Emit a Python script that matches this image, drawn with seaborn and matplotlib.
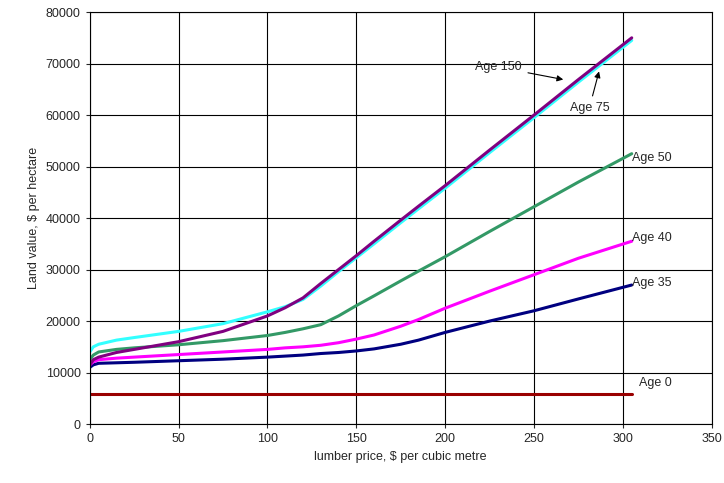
import pandas as pd
import matplotlib.pyplot as plt
import seaborn as sns

price = [0, 2, 5, 15, 25, 50, 75, 100, 110, 120, 130, 140, 150, 160, 175, 185, 200, 225, 250, 275, 305]

age150 = [11500, 12500, 13000, 13900, 14500, 16000, 18000, 21000, 22600, 24500, 27300, 30000, 32700, 35500, 39600, 42300, 46300, 53200, 60000, 66900, 75000]
age75 = [14000, 15000, 15500, 16300, 16800, 18000, 19500, 21800, 22800, 24200, 26800, 29600, 32300, 35000, 39100, 41800, 45800, 52700, 59500, 66400, 74500]
age50 = [12500, 13400, 14000, 14500, 14800, 15400, 16200, 17200, 17800, 18500, 19300, 21000, 23000, 24900, 27800, 29700, 32500, 37400, 42200, 47000, 52500]
age40 = [11500, 12100, 12500, 12800, 13000, 13500, 14000, 14500, 14800, 15000, 15300, 15800, 16500, 17300, 19000, 20300, 22500, 25800, 29000, 32200, 35500]
age35 = [11000, 11500, 11800, 11900, 12000, 12300, 12600, 13000, 13200, 13400, 13700, 13900, 14200, 14600, 15500, 16300, 17800, 20000, 22000, 24300, 27000]
age0 = [5800] * len(price)

series = {"Age 0": age0, "Age 35": age35, "Age 40": age40, "Age 50": age50,
          "Age 75": age75, "Age 150": age150}
colors = {"Age 0": "#990000", "Age 35": "#000080", "Age 40": "#ff00ff",
          "Age 50": "#339966", "Age 75": "#33ffff", "Age 150": "#800080"}

df = pd.concat([pd.DataFrame({"price": price, "value": v, "age": k}) for k, v in series.items()])

sns.set_style("white")
plt.rcParams["font.family"] = ["Liberation Sans", "DejaVu Sans"]

fig, ax = plt.subplots(figsize=(7.24, 4.83), dpi=100)
sns.lineplot(data=df, x="price", y="value", hue="age", palette=colors, linewidth=2.2,
             legend=False, ax=ax)

ax.set_xlim(0, 350)
ax.set_ylim(0, 80000)
ax.set_xticks(range(0, 351, 50))
ax.set_yticks(range(0, 80001, 10000))
ax.grid(True, color="black", linewidth=0.8)
for s in ax.spines.values():
    s.set_color("black")
ax.tick_params(labelsize=9, direction="out", length=3, left=True, bottom=True)
ax.set_xlabel("lumber price, $ per cubic metre", fontsize=9)
ax.set_ylabel("Land value, $ per hectare", fontsize=9)

ax.annotate("Age 150", xy=(268, 66800), xytext=(217, 69300), fontsize=9, va="center",
            arrowprops=dict(arrowstyle="-|>", color="black", lw=0.8))
ax.annotate("Age 75", xy=(287, 69000), xytext=(270, 61400), fontsize=9, va="center",
            arrowprops=dict(arrowstyle="-|>", color="black", lw=0.8))
ax.text(305, 51600, "Age 50", fontsize=9, va="center")
ax.text(305, 36100, "Age 40", fontsize=9, va="center")
ax.text(305, 27400, "Age 35", fontsize=9, va="center")
ax.text(309, 8000, "Age 0", fontsize=9, va="center")

fig.subplots_adjust(left=0.124, right=0.983, top=0.975, bottom=0.122)
fig.savefig("out.png")
